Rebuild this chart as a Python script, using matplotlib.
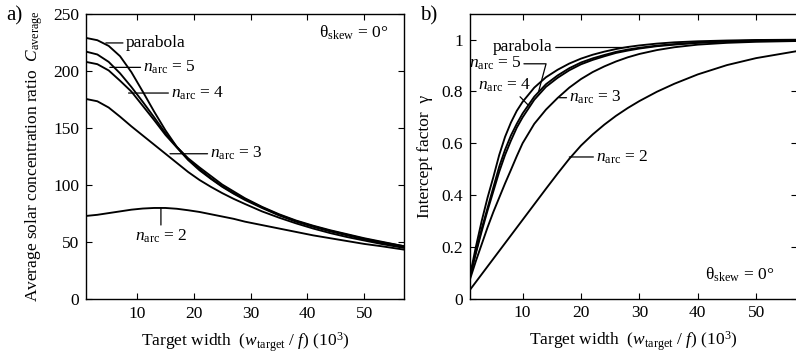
import matplotlib
matplotlib.use("Agg")
import matplotlib.pyplot as plt
from matplotlib.ticker import FormatStrFormatter

plt.rcParams['font.family'] = ['Liberation Serif', 'DejaVu Serif']
plt.rcParams['mathtext.fontset'] = 'custom'
plt.rcParams['mathtext.rm'] = 'Liberation Serif'
plt.rcParams['mathtext.it'] = 'Liberation Serif:italic'
plt.rcParams['mathtext.bf'] = 'Liberation Serif:bold'

#--data: panel a, average concentration ratio--#
xa = [1, 3, 5, 7, 9, 11, 13, 15, 17, 19, 21, 23, 25, 27, 29, 32, 35, 38, 41, 44, 47, 50, 53, 57]
ca_parabola = [229, 227, 222, 213, 199, 182, 164.5, 148, 133.5, 123.5, 115.5, 108, 100.5,
               94.5, 88.5, 81, 74.5, 69, 64.5, 60.5, 57, 53.5, 50.5, 46.5]
ca_n5 = [217, 214.5, 208, 198, 186, 173, 159.5, 145.5, 133.5, 122.5, 114, 106, 99,
         93, 88, 80.5, 74, 68.5, 64, 60, 56.5, 53, 50, 46.5]
ca_n4 = [208, 206, 200.5, 191.5, 182, 169.5, 157, 144, 133, 122, 113, 105.5, 98.5,
         92.5, 87, 80, 73.5, 68, 63.5, 59.5, 56, 52.5, 49.5, 46]
ca_n3 = [175.5, 173.5, 168, 160, 151.5, 143.5, 135.5, 127.5, 119.5, 111.5, 104.5, 98.5, 93,
         88, 83.5, 77, 71.5, 66.5, 62, 58, 54.5, 51.5, 48.5, 45]
ca_n2 = [73, 74, 75.5, 77, 78.5, 79.5, 80, 80, 79.3, 78, 76.5, 74.5, 72.5,
         70.5, 68, 65, 62, 59, 56, 53.5, 51, 48.5, 46.5, 43.5]

#--data: panel b, intercept factor--#
xb = [1, 2, 3, 4, 5, 6, 7, 8, 9, 10, 12, 14, 16, 18, 20, 22, 24, 26, 28, 30, 33, 36, 40, 45, 50, 57]
g_parabola = [0.09, 0.20, 0.30, 0.39, 0.47, 0.555, 0.625, 0.68, 0.725, 0.76, 0.815, 0.855,
              0.884, 0.908, 0.927, 0.942, 0.954, 0.964, 0.972, 0.978, 0.985, 0.99,
              0.994, 0.997, 0.999, 1.0]
g_n5 = [0.085, 0.18, 0.27, 0.35, 0.43, 0.51, 0.575, 0.63, 0.675, 0.715, 0.78, 0.828,
        0.862, 0.89, 0.912, 0.928, 0.941, 0.953, 0.962, 0.969, 0.977, 0.983,
        0.989, 0.994, 0.997, 0.999]
g_n4 = [0.085, 0.175, 0.26, 0.34, 0.415, 0.49, 0.555, 0.61, 0.66, 0.70, 0.768, 0.818,
        0.853, 0.882, 0.905, 0.922, 0.936, 0.949, 0.958, 0.966, 0.975, 0.981,
        0.988, 0.993, 0.996, 0.998]
g_n3 = [0.075, 0.145, 0.21, 0.275, 0.335, 0.39, 0.445, 0.497, 0.55, 0.60, 0.675, 0.73,
        0.775, 0.815, 0.848, 0.875, 0.897, 0.916, 0.932, 0.945, 0.96, 0.971,
        0.981, 0.988, 0.992, 0.995]
g_n2 = [0.034, 0.064, 0.094, 0.124, 0.154, 0.184, 0.214, 0.244, 0.274, 0.304, 0.364, 0.424,
        0.483, 0.540, 0.591, 0.634, 0.672, 0.706, 0.736, 0.763, 0.799, 0.830,
        0.866, 0.902, 0.929, 0.956]

lab_n = [r'$n_{\mathrm{arc}}$ = %d' % k for k in (2, 3, 4, 5)]
theta_lab = r'θ$_{\mathrm{skew}}$ = 0°'
xlab = r'Target width  ($w_{\mathrm{target}}$ / $f$) (10$^3$)'

fig = plt.figure(figsize=(7.96, 3.55), dpi=100)
ax1 = fig.add_axes([0.108, 0.157, 0.3995, 0.8037])
ax2 = fig.add_axes([0.5905, 0.159, 0.4108, 0.802])

lw = 1.35
for ys in (ca_parabola, ca_n5, ca_n4, ca_n3, ca_n2):
    ax1.plot(xa, ys, color='black', lw=lw)
for ys in (g_parabola, g_n5, g_n4, g_n3, g_n2):
    ax2.plot(xb, ys, color='black', lw=lw)

for ax in (ax1, ax2):
    ax.set_xlim(1, 57)
    ax.set_xticks([10, 20, 30, 40, 50])
    ax.tick_params(direction='in', top=True, right=True, length=4, width=0.8,
                   labelsize=12.5, pad=5)
    ax.set_xlabel(xlab, fontsize=12.5, labelpad=6)
    for s in ax.spines.values():
        s.set_linewidth(1.0)

ax1.set_ylim(0, 250)
ax1.set_yticks([0, 50, 100, 150, 200, 250])
ax1.set_ylabel(r'Average solar concentration ratio  $C_{\mathrm{average}}$', fontsize=12.5, labelpad=6)
ax2.set_ylim(0, 1.1)
ax2.set_yticks([0, 0.2, 0.4, 0.6, 0.8, 1.0])
ax2.yaxis.set_major_formatter(FormatStrFormatter('%g'))
ax2.set_ylabel('Intercept factor  γ', fontsize=12.5, labelpad=6)

line = dict(arrowstyle='-', color='black', lw=0.9, shrinkA=0, shrinkB=0)
fs = 12.5

#--annotations panel a--#
ax1.annotate('parabola', xy=(4.5, 224.6), xytext=(8.0, 224.6), ha='left', va='center',
             fontsize=fs, arrowprops=line)
ax1.annotate(lab_n[3], xy=(5.2, 203.2), xytext=(11.1, 203.2), ha='left', va='center',
             fontsize=fs, arrowprops=line)
ax1.annotate(lab_n[2], xy=(8.5, 180.7), xytext=(16.0, 180.7), ha='left', va='center',
             fontsize=fs, arrowprops=line)
ax1.annotate(lab_n[1], xy=(15.8, 127.5), xytext=(22.9, 127.5), ha='left', va='center',
             fontsize=fs, arrowprops=line)
ax1.annotate(lab_n[0], xy=(14.2, 79.8), xytext=(14.2, 55), ha='center', va='center',
             fontsize=fs, arrowprops=line)
ax1.text(0.95, 0.933, theta_lab, transform=ax1.transAxes, ha='right', va='center', fontsize=fs)
fig.text(0.008, 0.955, 'a)', fontsize=15, ha='left', va='center')

#--annotations panel b--#
ax2.annotate('parabola', xy=(28.1, 0.970), xytext=(15.2, 0.970), ha='right', va='center',
             fontsize=fs, arrowprops=line)
ax2.annotate(lab_n[3], xy=(12.7, 0.796), xytext=(9.75, 0.907), ha='right', va='center',
             fontsize=fs, arrowprops=dict(line, connectionstyle='angle,angleA=0,angleB=75,rad=0'))
ax2.annotate(lab_n[2], xy=(11.2, 0.742), xytext=(2.3, 0.824), ha='left', va='center',
             fontsize=fs, arrowprops=dict(line, relpos=(0.75, 0.0)))
ax2.annotate(lab_n[1], xy=(16.3, 0.776), xytext=(18.0, 0.776), ha='left', va='center',
             fontsize=fs, arrowprops=line)
ax2.annotate(lab_n[0], xy=(18.0, 0.547), xytext=(22.6, 0.547), ha='left', va='center',
             fontsize=fs, arrowprops=line)
ax2.text(0.93, 0.083, theta_lab, transform=ax2.transAxes, ha='right', va='center', fontsize=fs)
fig.text(0.528, 0.955, 'b)', fontsize=15, ha='left', va='center')

fig.savefig('out.png', dpi=100)
